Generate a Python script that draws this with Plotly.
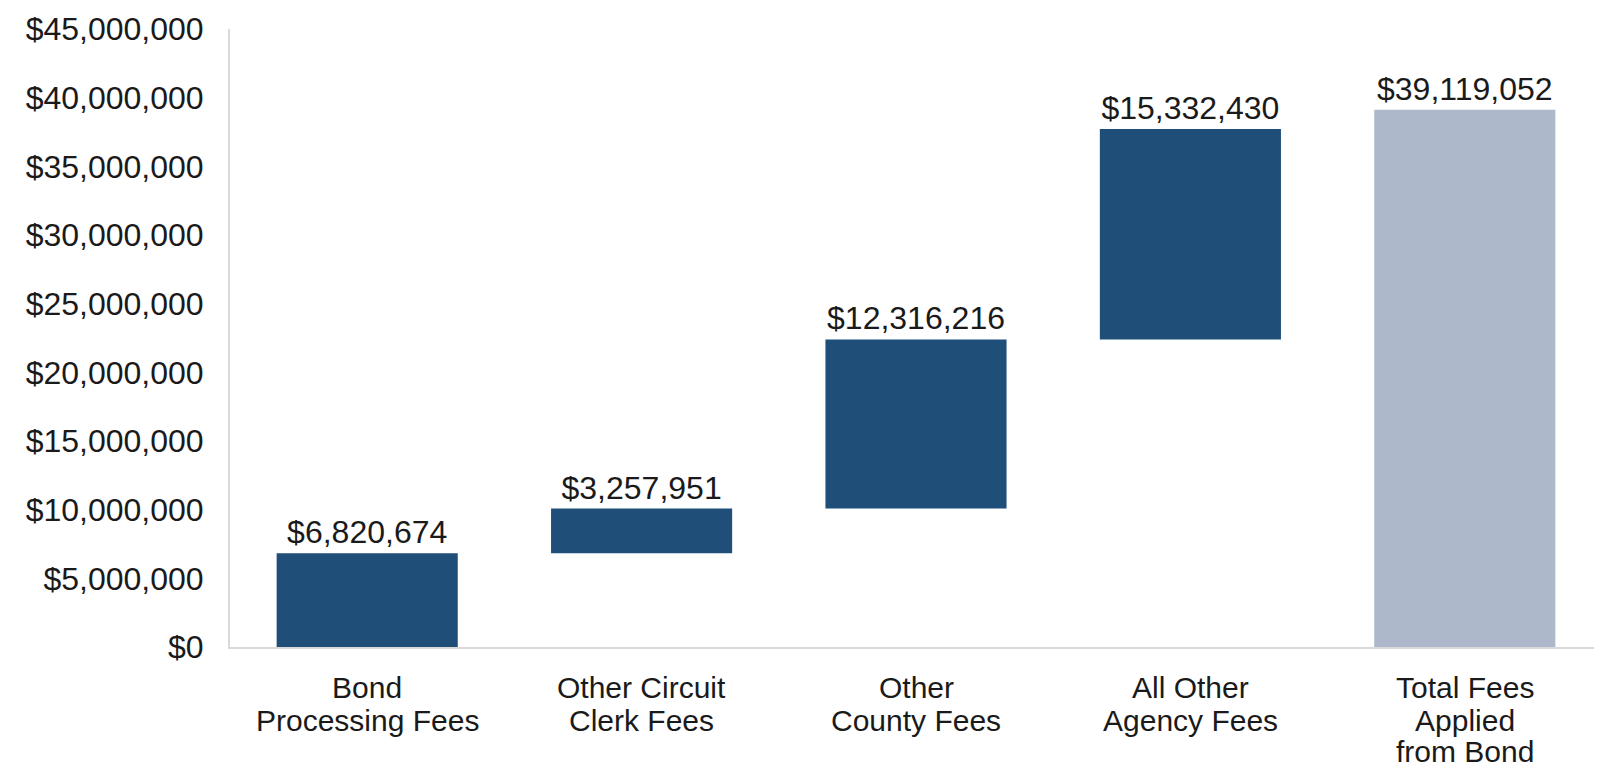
import numpy as np
import plotly.graph_objects as go

categories = ["Bond Processing Fees", "Other Circuit Clerk Fees", "Other County Fees",
              "All Other Agency Fees", "Total Fees Applied from Bond"]
label_lines = [["Bond", "Processing Fees"],
               ["Other Circuit", "Clerk Fees"],
               ["Other", "County Fees"],
               ["All Other", "Agency Fees"],
               ["Total Fees", "Applied", "from Bond"]]
values = [6820674, 3257951, 12316216, 15332430, 39119052]
is_total = [False, False, False, False, True]
tick_vals = [0, 5000000, 10000000, 15000000, 20000000, 25000000, 30000000, 35000000, 40000000, 45000000]
tick_text = [f"${v:,}" for v in tick_vals]

step_vals = np.array([v for v, t in zip(values, is_total) if not t])
step_bases = np.concatenate([[0], np.cumsum(step_vals)[:-1]])
bases = []
i = 0
for v, t in zip(values, is_total):
    if t:
        bases.append(0)
    else:
        bases.append(float(step_bases[i]))
        i += 1

colors = ["#ADB9CA" if t else "#1F4E79" for t in is_total]
FONT = "Liberation Sans, Arial, sans-serif"

fig = go.Figure(go.Bar(
    x=categories, y=values, base=bases,
    marker=dict(color=colors, line=dict(width=0)),
    text=[f"${v:,}" for v in values],
    textposition="outside",
    textfont=dict(family=FONT, size=32, color="#1a1a1a"),
    cliponaxis=False,
))

annotations = []
offsets = [40, 73, 104]
for cat, lines in zip(categories, label_lines):
    for k, line in enumerate(lines):
        annotations.append(dict(
            x=cat, xref="x", y=0, yref="paper", yshift=-offsets[k],
            text=line, showarrow=False, yanchor="middle", xanchor="center",
            font=dict(family=FONT, size=30, color="#1a1a1a"),
        ))

fig.update_layout(
    width=1594, height=763,
    margin=dict(l=222, r=0, t=21, b=124),
    paper_bgcolor="white", plot_bgcolor="white",
    bargap=0.34,
    showlegend=False,
    annotations=annotations,
    font=dict(family=FONT, color="#1a1a1a"),
)
fig.update_xaxes(showticklabels=False, showline=True, linecolor="#D9D9D9", linewidth=2,
                 ticks="", showgrid=False, zeroline=False)
fig.update_yaxes(range=[0, 45000000], tickvals=tick_vals, ticktext=tick_text,
                 showline=True, linecolor="#D9D9D9", linewidth=2, showgrid=False, zeroline=False,
                 ticks="outside", ticklen=18, tickcolor="rgba(0,0,0,0)",
                 tickfont=dict(family=FONT, size=32, color="#1a1a1a"))

fig.write_html("out.html")
